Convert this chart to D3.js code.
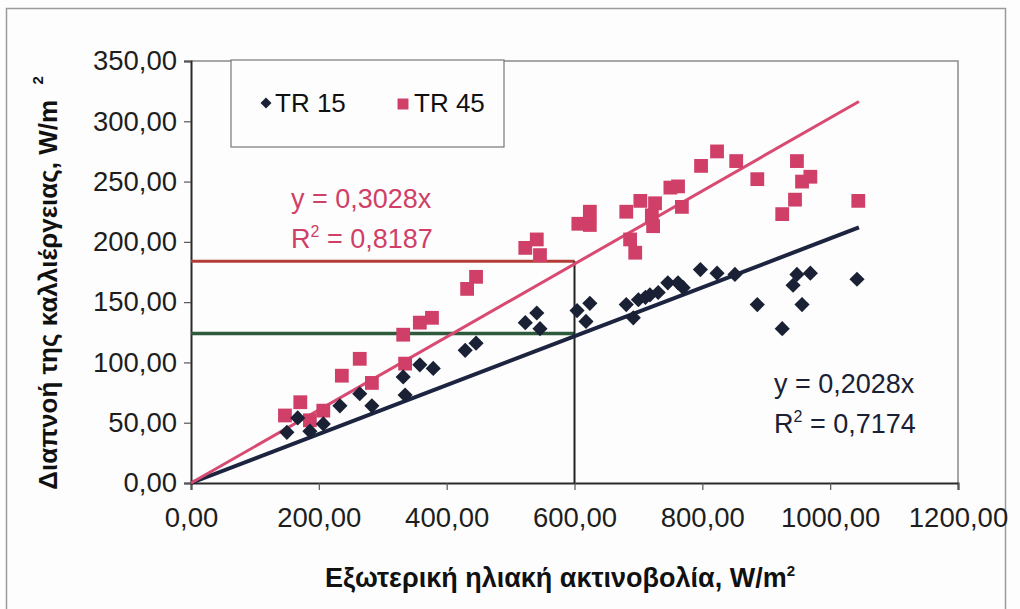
<!DOCTYPE html>
<html>
<head>
<meta charset="utf-8">
<script src="https://cdn.jsdelivr.net/npm/d3@7"></script>
<style>
  body { margin: 0; background: #fdfdfd; }
  svg { display: block; }
  text { font-family: "Liberation Sans", Arial, sans-serif; }
</style>
</head>
<body>
<div id="graphic"></div>
<script>
// TR 15 (diamonds)
var tr15X = [150, 167, 186, 207, 233, 264, 283, 332, 335, 358, 379, 429, 446, 523, 541, 546, 604, 624, 618,
             681, 692, 700, 711, 718, 731, 746, 762, 770, 797, 823, 851, 886, 925, 942, 948, 969, 956, 1042];
var tr15Y = [42, 54, 43, 49, 64, 74, 64, 88, 73, 98, 95, 110, 116, 133, 141, 128, 143, 149, 134,
             148, 137, 152, 154, 156, 158, 166, 166, 162, 177, 174, 173, 148, 128, 164, 173, 174, 148, 169];
// TR 45 (squares)
var tr45X = [147, 171, 186, 207, 236, 264, 283, 335, 332, 358, 377, 432, 446, 523, 541, 546, 606, 624, 624,
             681, 703, 726, 721, 723, 687, 695, 750, 762, 768, 798, 823, 853, 886, 948, 969, 956, 945, 925, 1044];
var tr45Y = [56, 67, 52, 60, 89, 103, 83, 99, 123, 133, 137, 161, 171, 195, 202, 189, 215, 225, 214,
             225, 234, 232, 222, 213, 202, 191, 245, 246, 229, 263, 275, 267, 252, 267, 254, 250, 235, 223, 234];

var xTicks = [0, 200, 400, 600, 800, 1000, 1200];
var yTicks = [0, 50, 100, 150, 200, 250, 300, 350];

var slope15 = 0.2028, slope45 = 0.3028;
var trendEndX = 1045;
var refX = 600, refY45 = 184, refY15 = 124;

var W = 1020, H = 609;
var margin = {top: 61, right: 62, bottom: 126, left: 191};
var width = W - margin.left - margin.right,
    height = H - margin.top - margin.bottom;

var locale = d3.formatLocale({decimal: ",", thousands: ".", grouping: [3], currency: ["", ""]});
var fmt = locale.format(".2f");
var fmt4 = locale.format(".4f");

var svg = d3.select("#graphic").append("svg")
  .attr("width", W).attr("height", H);

// outer frame of the scanned chart
svg.append("rect")
  .attr("x", 6.5).attr("y", 8.5).attr("width", 999).attr("height", 640)
  .attr("fill", "none").attr("stroke", "#9a9a9a").attr("stroke-width", 1.5);

var g = svg.append("g")
  .attr("transform", "translate(" + margin.left + "," + margin.top + ")");

var x = d3.scaleLinear().domain([0, 1200]).range([0, width]);
var y = d3.scaleLinear().domain([0, 350]).range([height, 0]);

// plot area border (top, right)
g.append("path")
  .attr("d", "M0,0H" + width + "V" + height)
  .attr("fill", "none").attr("stroke", "#8a8a8a").attr("stroke-width", 1.5);

// axes
var xAxis = g.append("g")
  .attr("transform", "translate(0," + height + ")")
  .call(d3.axisBottom(x).tickValues(xTicks).tickFormat(fmt).tickSize(7).tickPadding(17));
var yAxis = g.append("g")
  .call(d3.axisLeft(y).tickValues(yTicks).tickFormat(fmt).tickSize(7).tickPadding(7));

[xAxis, yAxis].forEach(function(a) {
  a.select(".domain").attr("stroke", "#2a2a2a").attr("stroke-width", 2);
  a.selectAll(".tick line").attr("stroke", "#555").attr("stroke-width", 1.2);
  a.selectAll(".tick text")
    .attr("fill", "#1e1e1e")
    .style("font-family", "'Liberation Sans', Arial, sans-serif")
    .style("font-size", "27.5px");
});

// reference lines at 600
g.append("line")
  .attr("x1", x(0)).attr("x2", x(refX)).attr("y1", y(refY45)).attr("y2", y(refY45))
  .attr("stroke", "#b43c36").attr("stroke-width", 3);
g.append("line")
  .attr("x1", x(0)).attr("x2", x(refX)).attr("y1", y(refY15)).attr("y2", y(refY15))
  .attr("stroke", "#2d5a3c").attr("stroke-width", 3.5);
g.append("line")
  .attr("x1", x(refX)).attr("x2", x(refX)).attr("y1", y(refY45)).attr("y2", y(0))
  .attr("stroke", "#222").attr("stroke-width", 2);

// trend lines
g.append("line")
  .attr("x1", x(0)).attr("y1", y(0)).attr("x2", x(trendEndX)).attr("y2", y(slope15 * trendEndX))
  .attr("stroke", "#1c2440").attr("stroke-width", 4);
g.append("line")
  .attr("x1", x(0)).attr("y1", y(0)).attr("x2", x(trendEndX)).attr("y2", y(slope45 * trendEndX))
  .attr("stroke", "#d84a72").attr("stroke-width", 3);

// points
var diamond = d3.symbol().type(d3.symbolSquare).size(115);
var square = d3.symbol().type(d3.symbolSquare).size(190);

g.selectAll(".tr45")
  .data(tr45X.map(function(v, i) { return [v, tr45Y[i]]; }))
  .enter().append("path")
  .attr("class", "tr45")
  .attr("d", square)
  .attr("fill", "#cf3f68")
  .attr("transform", function(d) { return "translate(" + x(d[0]) + "," + y(d[1]) + ")"; });

g.selectAll(".tr15")
  .data(tr15X.map(function(v, i) { return [v, tr15Y[i]]; }))
  .enter().append("path")
  .attr("class", "tr15")
  .attr("d", diamond)
  .attr("fill", "#1a2134")
  .attr("transform", function(d) { return "translate(" + x(d[0]) + "," + y(d[1]) + ") rotate(45)"; });

// legend
var leg = svg.append("g").attr("transform", "translate(231,60)");
leg.append("rect").attr("width", 273).attr("height", 87)
  .attr("fill", "#fdfdfd").attr("stroke", "#777").attr("stroke-width", 1.2);
leg.append("path").attr("d", d3.symbol().type(d3.symbolSquare).size(60))
  .attr("fill", "#1a2134").attr("transform", "translate(35,43) rotate(45)");
leg.append("text").attr("x", 44).attr("y", 52).text("TR 15")
  .style("font-size", "26px").attr("fill", "#111");
leg.append("path").attr("d", d3.symbol().type(d3.symbolSquare).size(120))
  .attr("fill", "#cf3f68").attr("transform", "translate(172,44)");
leg.append("text").attr("x", 183).attr("y", 52).text("TR 45")
  .style("font-size", "26px").attr("fill", "#111");

// equations
function eq(tx, ty, slope, r2, col) {
  var t = svg.append("g").attr("fill", col).style("font-size", "27px");
  t.append("text").attr("x", tx).attr("y", ty).text("y = " + fmt4(slope) + "x");
  var r = t.append("text").attr("x", tx).attr("y", ty + 40);
  r.append("tspan").text("R");
  r.append("tspan").attr("dy", -11).style("font-size", "16px").text("2");
  r.append("tspan").attr("dy", 11).text(" = " + fmt4(r2));
}
eq(291, 208, slope45, 0.8187, "#cf3f68");
eq(774, 393, slope15, 0.7174, "#1a2134");

// axis titles
svg.append("text")
  .attr("x", 560).attr("y", 587)
  .attr("text-anchor", "middle")
  .style("font-size", "27px").style("font-weight", "bold").attr("fill", "#111")
  .html('Εξωτερική ηλιακή ακτινοβολία, W/m<tspan dy="-11" font-size="15px">2</tspan>');

svg.append("text")
  .attr("transform", "translate(57,283) rotate(-90)")
  .attr("text-anchor", "middle")
  .style("font-size", "26px").style("font-weight", "bold").attr("fill", "#111")
  .html('Διαπνοή της καλλιέργειας, W/m <tspan dx="8" dy="-14" font-size="15px">2</tspan>');
</script>
</body>
</html>
